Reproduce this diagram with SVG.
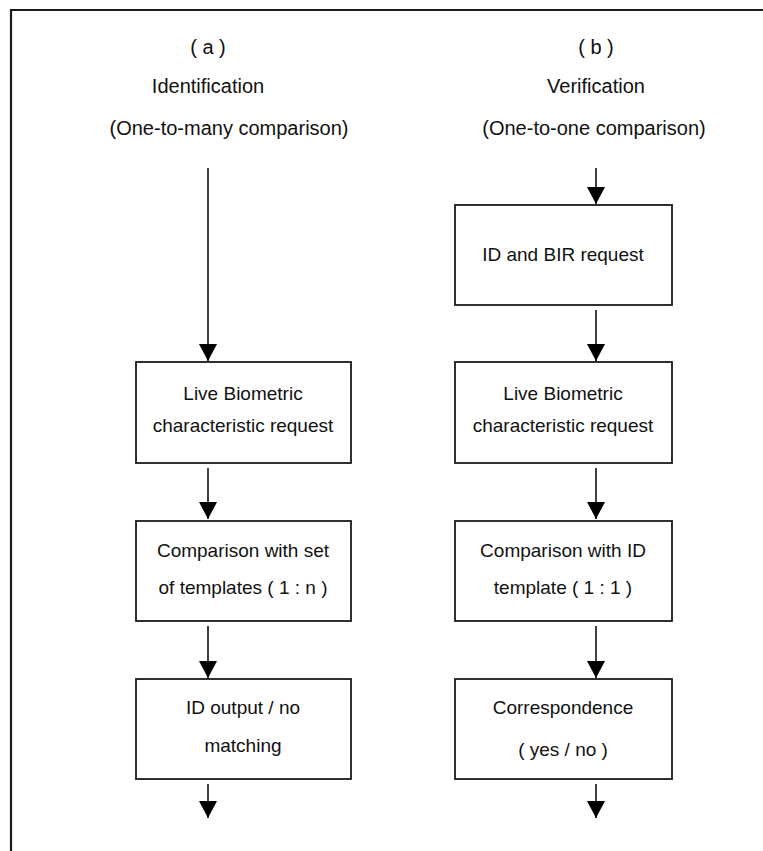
<svg xmlns="http://www.w3.org/2000/svg" width="763" height="851" viewBox="0 0 763 851">
<defs>
<style>
.frame{fill:none;stroke:#1a1a1a;stroke-width:2.2}
.box{fill:#fff;stroke:#1a1a1a;stroke-width:1.8}
.t{font-family:"Liberation Sans",Arial,sans-serif;font-size:19px;fill:#111;text-anchor:middle}
.h{font-family:"Liberation Sans",Arial,sans-serif;font-size:20px;fill:#111;text-anchor:middle}
.c{stroke:#111;stroke-width:1.6;fill:none;marker-end:url(#ah)}
</style>
<marker id="ah" markerWidth="19" markerHeight="18" refX="18" refY="9.5" orient="auto" markerUnits="userSpaceOnUse" viewBox="0 0 18 19">
<path d="M0,0 L18,9.5 L0,19 Z" fill="#000"/>
</marker>
</defs>
<rect width="763" height="851" fill="#fff"/>
<path class="frame" d="M11,851 V10 H763"/>
<g id="titles">
<text class="h" x="208" y="54">( a )</text>
<text class="h" x="208" y="93">Identification</text>
<text class="h" x="229" y="135">(One-to-many comparison)</text>
<text class="h" x="596" y="54">( b )</text>
<text class="h" x="596" y="93">Verification</text>
<text class="h" x="594" y="135">(One-to-one comparison)</text>
</g>
<g id="connectors">
<path class="c" d="M208,168 V361"/>
<path class="c" d="M208,468 V519"/>
<path class="c" d="M208,626 V678"/>
<path class="c" d="M208,784 V818"/>
<path class="c" d="M596,168 V204"/>
<path class="c" d="M596,310 V361"/>
<path class="c" d="M596,468 V519"/>
<path class="c" d="M596,626 V678"/>
<path class="c" d="M596,784 V818"/>
</g>
<g id="a1"><rect class="box" x="136" y="362" width="215" height="101"/>
<text class="t" x="243" y="400">Live Biometric</text><text class="t" x="243" y="432">characteristic request</text></g>
<g id="a2"><rect class="box" x="136" y="521" width="215" height="100"/>
<text class="t" x="243" y="557">Comparison with set</text><text class="t" x="243" y="594">of templates ( 1 : n )</text></g>
<g id="a3"><rect class="box" x="136" y="679" width="215" height="100"/>
<text class="t" x="243" y="714">ID output / no</text><text class="t" x="243" y="752">matching</text></g>
<g id="b0"><rect class="box" x="455" y="205" width="217" height="100"/>
<text class="t" x="563" y="261">ID and BIR request</text></g>
<g id="b1"><rect class="box" x="455" y="362" width="217" height="101"/>
<text class="t" x="563" y="400">Live Biometric</text><text class="t" x="563" y="432">characteristic request</text></g>
<g id="b2"><rect class="box" x="455" y="521" width="217" height="100"/>
<text class="t" x="563" y="557">Comparison with ID</text><text class="t" x="563" y="594">template ( 1 : 1 )</text></g>
<g id="b3"><rect class="box" x="455" y="679" width="217" height="100"/>
<text class="t" x="563" y="714">Correspondence</text><text class="t" x="563" y="756">( yes / no )</text></g>
</svg>
